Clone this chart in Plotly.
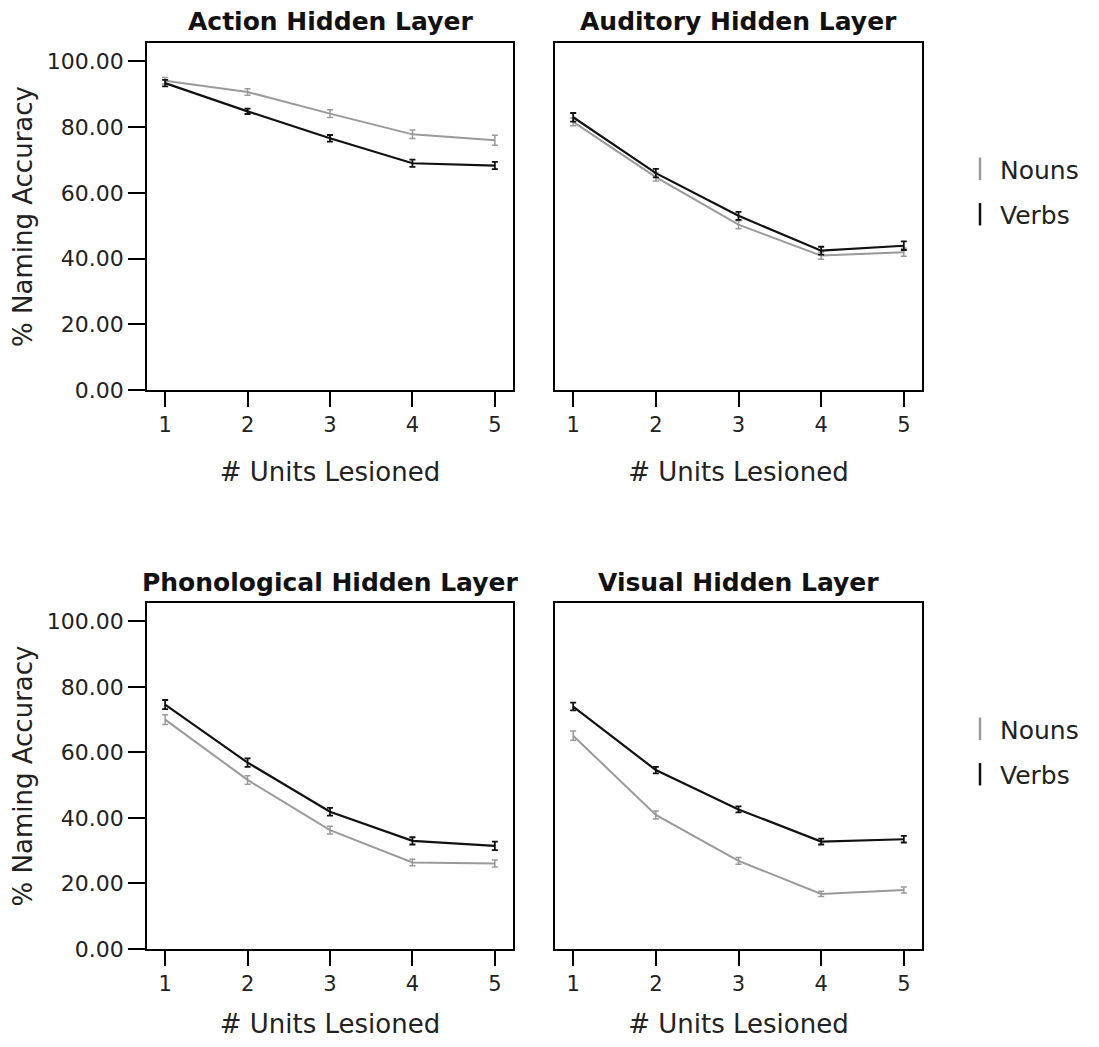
import plotly.graph_objects as go

# ---------------- data ----------------
units = [1, 2, 3, 4, 5]
panel_titles = ["Action Hidden Layer", "Auditory Hidden Layer",
                "Phonological Hidden Layer", "Visual Hidden Layer"]
series_names = ["Nouns", "Verbs"]

action_nouns = [94.1, 90.7, 84.1, 77.8, 76.0]
action_verbs = [93.4, 84.8, 76.6, 69.0, 68.3]
auditory_nouns = [81.6, 64.8, 50.3, 40.9, 41.9]
auditory_verbs = [83.0, 66.0, 53.0, 42.4, 43.9]
phon_nouns = [70.0, 51.6, 36.3, 26.4, 26.1]
phon_verbs = [74.6, 56.9, 41.9, 33.0, 31.5]
visual_nouns = [65.1, 40.9, 26.9, 16.8, 18.0]
visual_verbs = [74.0, 54.6, 42.6, 32.8, 33.5]

action_nouns_err = [1.0, 1.0, 1.2, 1.3, 1.5]
action_verbs_err = [1.0, 0.8, 1.0, 1.1, 1.1]
auditory_nouns_err = [1.2, 1.2, 1.2, 1.1, 1.2]
auditory_verbs_err = [1.3, 1.3, 1.2, 1.2, 1.3]
phon_nouns_err = [1.5, 1.3, 1.2, 1.0, 1.1]
phon_verbs_err = [1.4, 1.3, 1.2, 1.1, 1.3]
visual_nouns_err = [1.4, 1.2, 1.0, 0.8, 0.9]
visual_verbs_err = [1.2, 1.0, 0.9, 0.9, 1.0]

y_ticks = [0, 20, 40, 60, 80, 100]
y_ticklabels = ["0.00", "20.00", "40.00", "60.00", "80.00", "100.00"]

panels = [
    (action_nouns, action_nouns_err, action_verbs, action_verbs_err),
    (auditory_nouns, auditory_nouns_err, auditory_verbs, auditory_verbs_err),
    (phon_nouns, phon_nouns_err, phon_verbs, phon_verbs_err),
    (visual_nouns, visual_nouns_err, visual_verbs, visual_verbs_err),
]

# ---------------- styling ----------------
OFF = 8                      # page body margin of the browser
W, H = 1099 - 2 * OFF, 1047 - 2 * OFF
NOUN_C = "#9a9a9a"
VERB_C = "#111111"
FONT = "DejaVu Sans"
TXT_C = "#222222"

# panel boxes in reference-page pixels: (left, right, top, bottom)
boxes = [(147, 513, 43, 390), (555, 922, 43, 390),
         (147, 513, 603, 949), (555, 922, 603, 949)]

def xd(px):
    return (px - OFF) / W

def yd(py):
    return 1 - (py - OFF) / H

fig = go.Figure()
layout = dict(
    width=W, height=H,
    margin=dict(l=0, r=0, t=0, b=0, autoexpand=False),
    paper_bgcolor="white", plot_bgcolor="white",
    font=dict(family=FONT, color=TXT_C),
    showlegend=True,
)

for i, (nouns, nerr, verbs, verr) in enumerate(panels):
    k = "" if i == 0 else str(i + 1)
    xa, ya = "x" + k, "y" + k
    fig.add_trace(go.Scatter(
        x=units, y=nouns, mode="lines", xaxis=xa, yaxis=ya,
        line=dict(color=NOUN_C, width=2),
        error_y=dict(type="data", array=nerr, color=NOUN_C, thickness=1.5, width=3),
        showlegend=False, hoverinfo="skip"))
    fig.add_trace(go.Scatter(
        x=units, y=verbs, mode="lines", xaxis=xa, yaxis=ya,
        line=dict(color=VERB_C, width=2.2),
        error_y=dict(type="data", array=verr, color=VERB_C, thickness=1.8, width=3),
        showlegend=False, hoverinfo="skip"))

    l, r, t, b = boxes[i]
    left_col = (i % 2 == 0)
    layout["xaxis" + k] = dict(
        domain=[xd(l), xd(r)], anchor=ya, range=[0.78, 5.22], automargin=False,
        tickvals=units, ticktext=[str(u) for u in units],
        ticks="outside", ticklen=15, tickwidth=1.5, tickcolor="black",
        showline=True, linecolor="black", linewidth=1.5, mirror=True,
        showgrid=False, zeroline=False,
        tickfont=dict(family=FONT, size=21, color=TXT_C),
        title=dict(text="# Units Lesioned", standoff=27,
                   font=dict(family=FONT, size=26, color=TXT_C)),
    )
    layout["yaxis" + k] = dict(
        domain=[yd(b), yd(t)], anchor=xa, range=[0, 105.6], automargin=False,
        tickvals=y_ticks if left_col else [],
        ticktext=y_ticklabels if left_col else [],
        showticklabels=left_col,
        ticks="outside" if left_col else "", ticklen=17, tickwidth=1.5, tickcolor="black",
        showline=True, linecolor="black", linewidth=1.5, mirror=True,
        showgrid=False, zeroline=False,
        tickfont=dict(family=FONT, size=22, color=TXT_C),
        title=dict(text="% Naming Accuracy" if left_col else "", standoff=7,
                   font=dict(family=FONT, size=26, color=TXT_C)),
    )

# legend entries (one legend per row)
for leg in ["legend", "legend2"]:
    for j, (name, col) in enumerate(zip(series_names, [NOUN_C, VERB_C])):
        fig.add_trace(go.Scatter(
            x=[None], y=[None], mode="markers", name=name,
            marker=dict(symbol="line-ns-open", size=22, color=col,
                        line=dict(color=col, width=2.5)),
            legend=leg, legendgroup=leg + name, showlegend=True))

legend_common = dict(
    xanchor="left", yanchor="top", bgcolor="rgba(0,0,0,0)",
    font=dict(family=FONT, size=25, color=TXT_C),
    tracegroupgap=10, itemsizing="trace",
)
layout["legend"] = dict(x=xd(960), y=yd(146), **legend_common)
layout["legend2"] = dict(x=xd(960), y=yd(706), **legend_common)

# panel titles
title_pos = [(330, 22), (738, 22), (330, 582), (738, 582)]
annotations = []
for txt, (px, py) in zip(panel_titles, title_pos):
    annotations.append(dict(
        text="<b>" + txt + "</b>", x=xd(px), y=yd(py), xref="paper", yref="paper",
        xanchor="center", yanchor="middle", showarrow=False,
        font=dict(family=FONT, size=25, color="#111111")))
layout["annotations"] = annotations

fig.update_layout(**layout)
fig.write_html("out.html")
